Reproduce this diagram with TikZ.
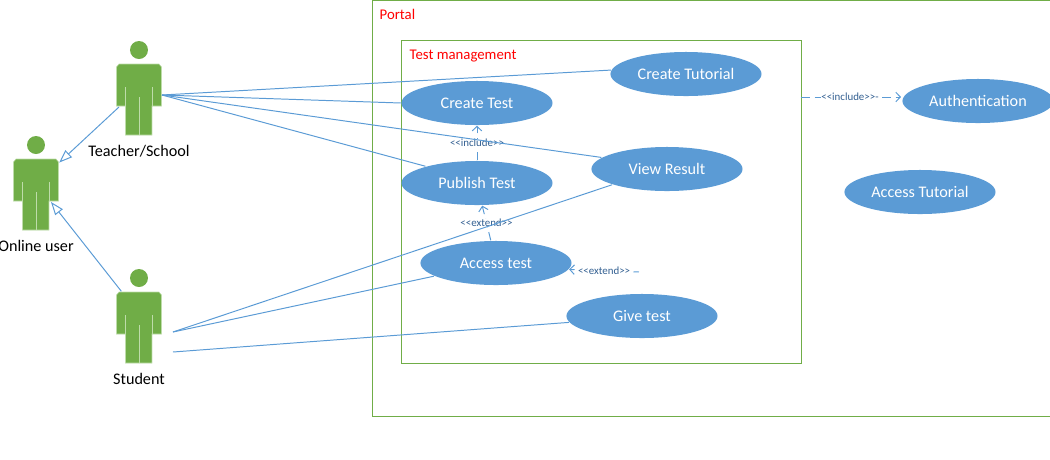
\documentclass[tikz,border=0pt]{standalone}
\usepackage{fontspec}
\setmainfont{Carlito}
\usepackage{tikz}
\usetikzlibrary{positioning,arrows.meta,shapes.geometric}
\usepackage{xcolor}
\definecolor{CaseBlue}{RGB}{91,155,213}
\definecolor{ActorGreen}{RGB}{112,173,71}
\definecolor{SlitGreen}{RGB}{190,220,170}
\definecolor{StereoBlue}{RGB}{50,95,145}

\begin{document}
\begin{tikzpicture}[
    x=0.01cm, y=-0.01cm,
    usecase/.style={ellipse, fill=CaseBlue, inner sep=0pt,
                 minimum width=1.51cm, minimum height=0.44cm,
                 text=white, font=\fontsize{4.6}{5}\selectfont},
    actorname/.style={font=\fontsize{4.6}{5}\selectfont, text=black, inner sep=0pt},
    boxtitle/.style={font=\fontsize{4.2}{5}\selectfont, text=red, inner sep=0pt, anchor=west},
    boundary/.style={draw=ActorGreen, line width=0.28pt},
    assoc/.style={draw=CaseBlue, line width=0.28pt},
    general/.style={assoc, -{Triangle[open, fill=white, length=1.3mm, width=0.95mm]}},
    stereo/.style={assoc, dash pattern=on 0.85mm off 0.5mm, -{Straight Barb[length=0.45mm, width=0.95mm]}},
    stereotext/.style={font=\fontsize{3.1}{3.5}\selectfont, text=StereoBlue, fill=white, inner sep=0pt},
    actorfig/.pic={
        \fill[ActorGreen] (0,0) circle [radius=9];
        \fill[ActorGreen, draw=SlitGreen, line width=0.15pt] (-20,14) -- (20,14) -- (22.5,17) -- (22.5,56) -- (13,56) -- (13,85)
            -- (-13.5,85) -- (-13.5,56) -- (-22.5,56) -- (-22.5,17) -- cycle;
        \draw[SlitGreen, line width=0.2pt] (-13.5,37) -- (-13.5,56);
        \draw[SlitGreen, line width=0.2pt] (13,37) -- (13,56);
        \draw[SlitGreen, line width=0.2pt] (0,47) -- (0,85);
        \node[minimum width=0.45cm, minimum height=0.71cm, inner sep=0pt] (-body) at (0,49.5) {};
    }
]
    \useasboundingbox (0,0) rectangle (1050,460);

    \draw[boundary] (372,0.5) rectangle (1070,416);
    \node[boxtitle] (portal) at (379,14.5) {Portal};
    \node[draw=ActorGreen, line width=0.28pt, minimum width=3.995cm, minimum height=3.22cm, inner sep=0pt] (testmgmt) at (601.2,202) {};
    \node[boxtitle] (testtitle) at (409,56) {Test management};

    \pic (teacher) at (139,50) {actorfig};
    \pic (online) at (36,145) {actorfig};
    \pic (student) at (139,278) {actorfig};
    \node[actorname, below=0.09cm of teacher-body] (teachername) {Teacher/School};
    \node[actorname, below=0.09cm of online-body] (onlinename) {Online user};
    \node[actorname, below=0.09cm of student-body] (studentname) {Student};

    \node[usecase] (tutorial) at (686,74) {Create Tutorial};
    \node[usecase] (createtest) at (477,103) {Create Test};
    \node[usecase] (publish) at (477,183) {Publish Test};
    \node[usecase] (viewresult) at (667,169) {View Result};
    \node[usecase] (accesstest) at (496,263) {Access test};
    \node[usecase] (givetest) at (642,316) {Give test};
    \node[usecase] (auth) at (978,101) {Authentication};
    \node[usecase] (accesstut) at (920,192) {Access Tutorial};

    % free ends of the connectors
    \coordinate (teacherport) at (162,95);
    \coordinate (teacherhand) at (119,107);
    \coordinate (studentport) at (173,332);
    \coordinate (studentlow) at (173,352);
    \coordinate (onlinefoot) at (51,202);
    \coordinate (extendend) at (639,272);
    \coordinate (mgmtport) at (801,97);
    \coordinate (authport) at (901,97);

    \draw[stereo] (publish) -- (createtest) node[midway, stereotext] {{<}{<}include{>}{>}};
    \draw[stereo] (accesstest.103) -- (publish.283) node[midway, stereotext] {{<}{<}extend{>}{>}};
    \draw[stereo, dash phase=0.3mm] (extendend) -- (accesstest.355) node[midway, stereotext] {{<}{<}extend{>}{>}};
    \draw[stereo] (mgmtport) -- (authport) node[midway, stereotext, xshift=-0.01cm] {{<}{<}include{>}{>}-};

    \draw[general] (teacherhand) -- (online-body.54);
    \draw[general] (student-body.116) -- (onlinefoot);

    \draw[assoc] (teacherport) -- (tutorial.177);
    \draw[assoc] (teacherport) -- (createtest.west);
    \draw[assoc] (teacherport) -- (publish.162);
    \draw[assoc] (teacherport) -- (viewresult.170);
    \draw[assoc] (studentport) -- (viewresult.196);
    \draw[assoc] (studentport) -- (accesstest.192);
    \draw[assoc] (studentlow) -- (givetest.185);
\end{tikzpicture}
\end{document}
